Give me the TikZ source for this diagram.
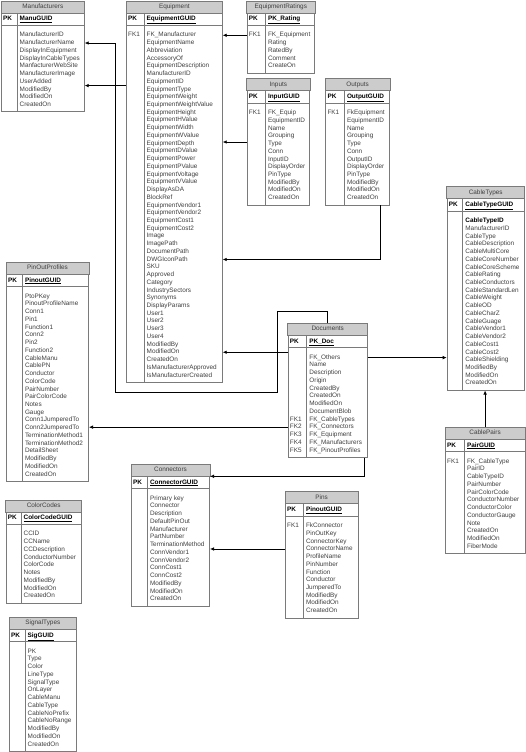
\documentclass[tikz,border=0pt]{standalone}
\usepackage{fontspec}
\setmainfont{Liberation Sans}
\usetikzlibrary{arrows.meta}

\definecolor{hdr}{HTML}{CCCCCC}
\definecolor{rim}{HTML}{7A7A7A}
\definecolor{ink}{HTML}{404040}

\tikzset{
	tbl/.style = {draw = rim, line width = .7pt},
	txt/.style = {inner sep = 0, text = ink, font = \fontsize{6.4}{7.7}\selectfont, text height = 4.6pt, text depth = 1.3pt},
	bld/.style = {txt, text = black, font = \fontsize{6.4}{7.7}\selectfont\bfseries},
	fk/.style = {draw, line width = .7pt, -{Latex[length = 4pt, width = 3.6pt]}}
}

%one table: name, x, y, width, divider, rows, title, key, fields
\newcommand{\dbtable}[9]{
	\node[tbl, fill = white, minimum width = #4pt, minimum height = {33.07pt + #6*7.73pt}, anchor = north west] (#1) at (#2,#3) {};
	\draw[tbl, fill = hdr] (#1.north west) rectangle ([yshift = -12pt]#1.north east);
	\node[txt] at ([yshift = -6pt]#1.north) {#7};
	\draw[tbl, line width = 1.1pt] ([yshift = -24.5pt]#1.north west) -- ([yshift = -24.5pt]#1.north east);
	\draw[tbl] ([xshift = #5pt, yshift = -12pt]#1.north west) -- ([xshift = #5pt]#1.south west);
	\node[bld, anchor = west] at ([xshift = 2pt, yshift = -18.2pt]#1.north west) {PK};
	\node[bld, anchor = west] at ([xshift = #5pt + 2.5pt, yshift = -18.2pt]#1.north west) {\underline{#8}};
	\foreach \k/\t [count = \i] in {#9}{
		\node[txt, anchor = west] (#1-\i) at ([xshift = #5pt + 2.5pt, yshift = -34.3pt - (\i - 1)*7.73pt]#1.north west) {\t};
		\node[txt, anchor = west] at ([xshift = 2pt, yshift = -34.3pt - (\i - 1)*7.73pt]#1.north west) {\k};
	}
}

\begin{document}
\begin{tikzpicture}[x = 1pt, y = -1pt]
	\useasboundingbox (0,0) rectangle (525,752);

	%left column
	\dbtable{man}{1}{1}{83}{16}{10}{Manufacturers}{ManuGUID}{/ManufacturerID, /ManufacturerName, /DisplayInEquipment, /DisplayInCableTypes, /ManfacturerWebSite, /ManufacturerImage, /UserAdded, /ModifiedBy, /ModifiedOn, /CreatedOn}
	\dbtable{pin}{6}{262.3}{82.3}{16.3}{24}{PinOutProfiles}{PinoutGUID}{/PtoPKey, /PinoutProfileName, /Conn1, /Pin1, /Function1, /Conn2, /Pin2, /Function2, /CableManu, /CablePN, /Conductor, /ColorCode, /PairNumber, /PairColorCode, /Notes, /Gauge, /Conn1JumperedTo, /Conn2JumperedTo, /TerminationMethod1, /TerminationMethod2, /DetailSheet, /ModifiedBy, /ModifiedOn, /CreatedOn}
	\dbtable{clr}{5.7}{500}{75.3}{15.3}{9}{ColorCodes}{ColorCodeGUID}{/CCID, /CCName, /CCDescription, /ConductorNumber, /ColorCode, /Notes, /ModifiedBy, /ModifiedOn, /CreatedOn}
	\dbtable{sig}{9}{617.3}{67}{16}{13}{SignalTypes}{SigGUID}{/PK, /Type, /Color, /LineType, /SignalType, /OnLayer, /CableManu, /CableType, /CableNoPrefix, /CableNoRange, /ModifiedBy, /ModifiedOn, /CreatedOn}

	%middle
	\dbtable{equip}{126}{1}{96}{18}{45}{Equipment}{EquipmentGUID}{FK1/FK\_Manufacturer, /EquipmentName, /Abbreviation, /AccessoryOf, /EquipmentDescription, /ManufacturerID, /EquipmentID, /EquipmentType, /EquipmentWeight, /EquipmentWeightValue, /EquipmentHeight, /EquipmentHValue, /EquipmentWidth, /EquipmentWValue, /EquipmentDepth, /EquipmentDValue, /EquipmentPower, /EquipmentPValue, /EquipmentVoltage, /EquipmentVValue, /DisplayAsDA, /BlockRef, /EquipmentVendor1, /EquipmentVendor2, /EquipmentCost1, /EquipmentCost2, /Image, /ImagePath, /DocumentPath, /DWGIconPath, /SKU, /Approved, /Category, /IndustrySectors, /Synonyms, /DisplayParams, /User1, /User2, /User3, /User4, /ModifiedBy, /ModifiedOn, /CreatedOn, /IsManufacturerApproved, /IsManufacturerCreated}
	\dbtable{rate}{246.7}{1}{67.6}{18.6}{5}{EquipmentRatings}{PK\_Rating}{FK1/FK\_Equipment, /Rating, /RatedBy, /Comment, /CreateOn}
	\dbtable{inp}{246.7}{78.7}{62.6}{18.6}{12}{Inputs}{InputGUID}{FK1/FK\_Equip, /EquipmentID, /Name, /Grouping, /Type, /Conn, /InputID, /DisplayOrder, /PinType, /ModifiedBy, /ModifiedOn, /CreatedOn}
	\dbtable{outp}{325.3}{78.7}{64}{19}{12}{Outputs}{OutputGUID}{FK1/FkEquipment, /EquipmentID, /Name, /Grouping, /Type, /Conn, /OutputID, /DisplayOrder, /PinType, /ModifiedBy, /ModifiedOn, /CreatedOn}
	\dbtable{docs}{287.7}{323.3}{79.3}{19}{13}{Documents}{PK\_Doc}{/FK\_Others, /Name, /Description, /Origin, /CreatedBy, /CreatedOn, /ModifiedOn, /DocumentBlob, FK1/FK\_CableTypes, FK2/FK\_Connectors, FK3/FK\_Equipment, FK4/FK\_Manufacturers, FK5/FK\_PinoutProfiles}
	\dbtable{con}{131}{464.3}{78.3}{16.3}{14}{Connectors}{ConnectorGUID}{/Primary key, /Connector, /Description, /DefaultPinOut, /Manufacturer, /PartNumber, /TerminationMethod, /ConnVendor1, /ConnVendor2, /ConnCost1, /ConnCost2, /ModifiedBy, /ModifiedOn, /CreatedOn}
	\dbtable{pins}{285}{491.7}{72.7}{18.3}{12}{Pins}{PinoutGUID}{FK1/FkConnector, /PinOutKey, /ConnectorKey, /ConnectorName, /ProfileName, /PinNumber, /Function, /Conductor, /JumperedTo, /ModifiedBy, /ModifiedOn, /CreatedOn}

	%right column
	\dbtable{cab}{446.7}{186.7}{77.3}{16}{22}{CableTypes}{CableTypeGUID}{/\textbf{\color{black}CableTypeID}, /ManufacturerID, /CableType, /CableDescription, /CableMultiCore, /CableCoreNumber, /CableCoreScheme, /CableRating, /CableConductors, /CableStandardLen, /CableWeight, /CableOD, /CableCharZ, /CableGuage, /CableVendor1, /CableVendor2, /CableCost1, /CableCost2, /CableShielding, /ModifiedBy, /ModifiedOn, /CreatedOn}
	\dbtable{pair}{445}{427.3}{79.5}{19.3}{12}{CablePairs}{PairGUID}{FK1/FK\_CableType, /PairID, /CableTypeID, /PairNumber, /PairColorCode, /ConductorNumber, /ConductorColor, /ConductorGauge, /Note, /CreatedOn, /ModifiedOn, /FiberMode}

	%links
	\draw[fk] (docs.north) -- ++(0,-11.8) -- ++(-50.6,0) -- ++(0,81.2) -- ++(-162.2,0) |- (man.east |- man-2);
	\draw[fk] ([yshift = -3.9pt]equip.west |- man-7) -- ([yshift = -3.9pt]man.east |- man-7);
	\draw[fk] (rate.west |- rate-1) -- (equip.east |- rate-1);
	\draw[fk] ([yshift = 1.5pt]inp.west |- equip-15) -- ([yshift = 1.5pt]equip.east |- equip-15);
	\draw[fk] ([xshift = -10pt]outp.south east) |- (equip.east |- equip-30);
	\draw[fk] (docs.west |- equip-42) -- (equip.east |- equip-42);
	\draw[fk] (docs.west |- docs-10) -- (pin.east |- docs-10);
	\draw[fk] ([xshift = -3.5pt]docs.south east) |- ([yshift = -12pt]con.north east);
	\draw[fk] ([yshift = -4pt]pins.west |- con-7) -- ([yshift = -4pt]con.east |- con-7);
	\draw[fk] (docs.east |- docs-1) -- (cab.west |- docs-1);
	\draw[fk] (pair.north) -- (pair.north |- cab.south);
\end{tikzpicture}
\end{document}
